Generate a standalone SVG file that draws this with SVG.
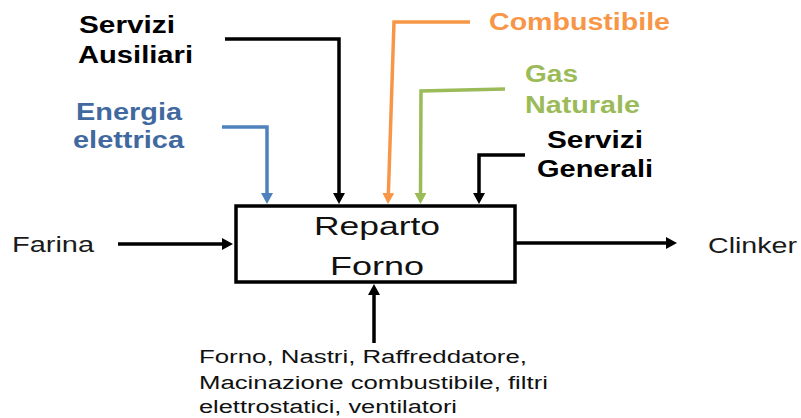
<svg xmlns="http://www.w3.org/2000/svg" width="801" height="418" viewBox="0 0 801 418">
<style>
.lbl{font-family:"Liberation Sans",Arial,sans-serif;font-weight:bold;font-size:23px}
.reg{font-family:"Liberation Sans",Arial,sans-serif;font-size:22px;fill:#1a1a1a}
.big{font-family:"Liberation Sans",Arial,sans-serif;font-size:26px;fill:#111}
.sm{font-family:"Liberation Sans",Arial,sans-serif;font-size:18px;fill:#111}
.ln{fill:none;stroke-width:3.5;stroke-linejoin:miter}
</style>
<defs>
<marker id="ak" markerUnits="userSpaceOnUse" markerWidth="12" markerHeight="12" refX="3" refY="6" orient="auto"><path d="M0,0 L11,6 L0,12 z" fill="#000"/></marker>
<marker id="ab" markerUnits="userSpaceOnUse" markerWidth="12" markerHeight="12" refX="3" refY="6" orient="auto"><path d="M0,0 L11,6 L0,12 z" fill="#4F81BD"/></marker>
<marker id="ao" markerUnits="userSpaceOnUse" markerWidth="12" markerHeight="12" refX="3" refY="6" orient="auto"><path d="M0,0 L11,6 L0,12 z" fill="#F79646"/></marker>
<marker id="ag" markerUnits="userSpaceOnUse" markerWidth="12" markerHeight="12" refX="3" refY="6" orient="auto"><path d="M0,0 L11,6 L0,12 z" fill="#9BBB59"/></marker>
</defs>
<rect width="801" height="418" fill="#fff"/>
<g id="connectors">
<path class="ln" stroke="#000" d="M225,39 H339 V196" marker-end="url(#ak)"/>
<path class="ln" stroke="#4F81BD" d="M222,127 H267 V196" marker-end="url(#ab)"/>
<path class="ln" stroke="#F79646" d="M470,22 H394 L388.3,196" marker-end="url(#ao)"/>
<path class="ln" stroke="#9BBB59" d="M505,89 L421,91 L420.5,196" marker-end="url(#ag)"/>
<path class="ln" stroke="#000" d="M525,155 H479 V196" marker-end="url(#ak)"/>
<path class="ln" stroke="#000" d="M118,244 H225" marker-end="url(#ak)"/>
<path class="ln" stroke="#000" d="M515,243 H669" marker-end="url(#ak)"/>
<path class="ln" stroke="#000" d="M374,343 V292" marker-end="url(#ak)"/>
</g>
<g id="reparto-forno">
<rect x="236" y="206" width="279" height="76" fill="#fff" stroke="#000" stroke-width="3.5"/>
<text class="big" x="314" y="235" textLength="126" lengthAdjust="spacingAndGlyphs">Reparto</text>
<text class="big" x="330" y="275" textLength="94" lengthAdjust="spacingAndGlyphs">Forno</text>
</g>
<g id="servizi-ausiliari">
<text class="lbl" fill="#000" x="79" y="33" textLength="96" lengthAdjust="spacingAndGlyphs">Servizi</text>
<text class="lbl" fill="#000" x="78" y="63" textLength="115" lengthAdjust="spacingAndGlyphs">Ausiliari</text>
</g>
<g id="energia-elettrica">
<text class="lbl" fill="#41699F" x="76" y="120" textLength="106" lengthAdjust="spacingAndGlyphs">Energia</text>
<text class="lbl" fill="#41699F" x="73" y="148" textLength="111" lengthAdjust="spacingAndGlyphs">elettrica</text>
</g>
<g id="combustibile">
<text class="lbl" fill="#F79646" x="489" y="30" textLength="181" lengthAdjust="spacingAndGlyphs">Combustibile</text>
</g>
<g id="gas-naturale">
<text class="lbl" fill="#9BBB59" x="525" y="82" textLength="53" lengthAdjust="spacingAndGlyphs">Gas</text>
<text class="lbl" fill="#9BBB59" x="525" y="113" textLength="115" lengthAdjust="spacingAndGlyphs">Naturale</text>
</g>
<g id="servizi-generali">
<text class="lbl" fill="#000" x="547" y="148" textLength="96" lengthAdjust="spacingAndGlyphs">Servizi</text>
<text class="lbl" fill="#000" x="537" y="177" textLength="116" lengthAdjust="spacingAndGlyphs">Generali</text>
</g>
<g id="farina">
<text class="reg" x="12" y="252" textLength="82" lengthAdjust="spacingAndGlyphs">Farina</text>
</g>
<g id="clinker">
<text class="reg" x="708" y="253" textLength="89" lengthAdjust="spacingAndGlyphs">Clinker</text>
</g>
<g id="apparecchiature">
<text class="sm" x="199" y="363" textLength="328" lengthAdjust="spacingAndGlyphs">Forno, Nastri, Raffreddatore,</text>
<text class="sm" x="199" y="389" textLength="349" lengthAdjust="spacingAndGlyphs">Macinazione combustibile, filtri</text>
<text class="sm" x="199" y="413" textLength="258" lengthAdjust="spacingAndGlyphs">elettrostatici, ventilatori</text>
</g>
</svg>
